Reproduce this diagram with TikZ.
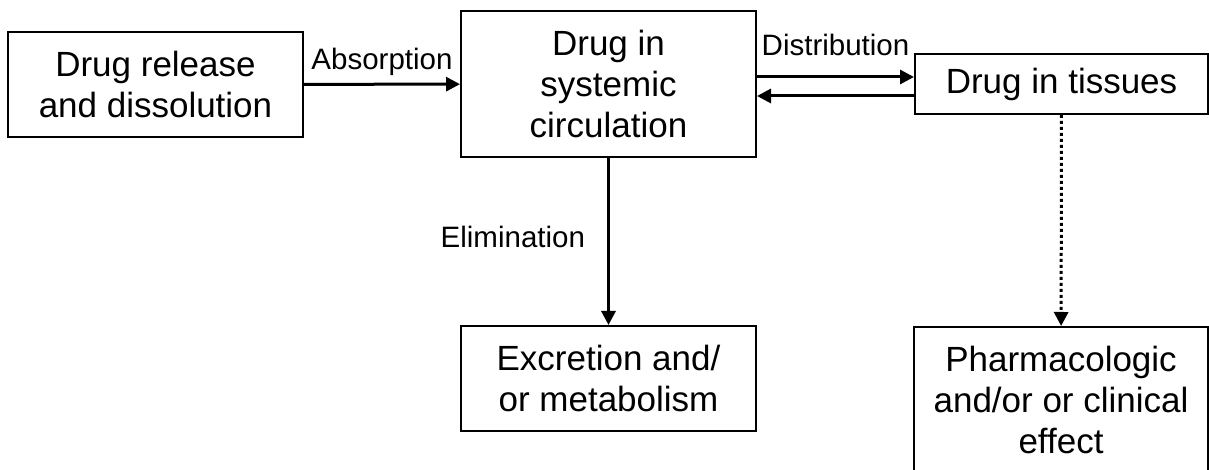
\documentclass[tikz,border=0pt]{standalone}
\usepackage{fontspec}
\setmainfont{Liberation Sans}
\usetikzlibrary{arrows.meta}

\begin{document}
\begin{tikzpicture}[x=0.5pt, y=0.5pt]
        \tikzstyle{box}=[draw=black, line width=1pt, align=center, inner sep=0pt, font=\fontsize{17.5pt}{20.5pt}\selectfont];
        \tikzstyle{lbl}=[inner sep=0pt, font=\fontsize{14.75pt}{17pt}\selectfont];
        \tikzstyle{arr}=[-{Triangle[length=7pt, width=7pt]}, line width=1.5pt];

        \useasboundingbox (0, 0) rectangle (1209, 470);

        \node[box, minimum width=147.5pt, minimum height=52.5pt] (rel) at (155.5, 385.5) {Drug release\\and dissolution};
        \node[box, minimum width=147.5pt, minimum height=73pt] (circ) at (608.5, 386) {Drug in\\systemic\\circulation};
        \node[box, minimum width=146.5pt, minimum height=30pt] (tis) at (1061.5, 386) {Drug in tissues};

        \node[box, minimum width=147.5pt, minimum height=52.5pt] (exc) at (608.5, 91.5) {Excretion and/\\or metabolism};
        \node[box, minimum width=147pt, minimum height=73pt] (eff) at (1061, 70) {Pharmacologic\\and/or or clinical\\effect};

        \draw (rel) edge[arr] node[lbl, above=3.5pt] {Absorption} (circ);
        \draw ([yshift=3.5pt]circ.east) edge[arr] node[lbl, above=10pt] {Distribution} ([yshift=3.5pt]tis.west);
        \draw ([yshift=-6pt]tis.west) edge[arr] ([yshift=-6pt]circ.east);

        \draw (circ) edge[arr] node[lbl, left=11pt, pos=0.47] {Elimination} (exc);
        \draw (tis) edge[arr, dash pattern=on 1.5pt off 1.5pt] (eff);
    \end{tikzpicture}
\end{document}
